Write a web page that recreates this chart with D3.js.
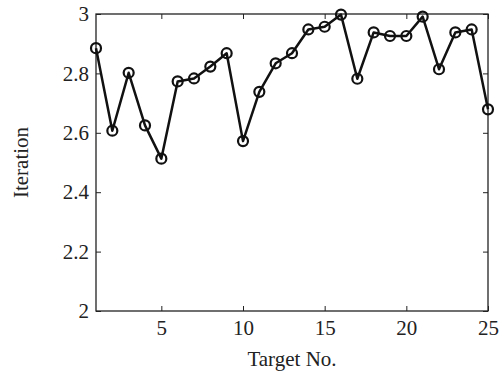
<!DOCTYPE html>
<html>
<head>
<meta charset="utf-8">
<script src="https://cdn.jsdelivr.net/npm/d3@7"></script>
<style>
  body { margin: 0; background: #fff; }
  svg { display: block; }
  text { font-family: "Liberation Serif", "DejaVu Serif", serif; fill: #222; }
</style>
</head>
<body>
<svg id="drawing_region"></svg>
<script>
const targets = d3.range(1, 26);
const iterations = [2.885, 2.607, 2.802, 2.625, 2.513, 2.773, 2.783, 2.823, 2.868, 2.572,
                    2.738, 2.834, 2.868, 2.948, 2.957, 2.998, 2.782, 2.938, 2.926, 2.926,
                    2.991, 2.814, 2.938, 2.948, 2.679];
const xTicks = [5, 10, 15, 20, 25];
const yTicks = [2, 2.2, 2.4, 2.6, 2.8, 3];

const data = targets.map((t, i) => ({x: t, y: iterations[i]}));

const config = {
    width: 502,
    height: 376,
    margin: {top: 14, right: 14, bottom: 65, left: 96}
};

const svg = d3.select('#drawing_region')
    .attr('width', config.width)
    .attr('height', config.height);

const innerW = config.width - config.margin.left - config.margin.right;
const innerH = config.height - config.margin.top - config.margin.bottom;

const chart = svg.append('g')
    .attr('transform', `translate(${config.margin.left}, ${config.margin.top})`);

const xscale = d3.scaleLinear().domain([1, 25]).range([0, innerW]);
const yscale = d3.scaleLinear().domain([2, 3]).range([innerH, 0]);

// box with inward ticks (bottom/left labelled, top/right unlabelled)
const styleAxis = g => {
    g.select('.domain').remove();
    g.selectAll('line').attr('stroke', '#222').attr('stroke-width', 1);
    g.selectAll('text').style('font-size', '21px').attr('fill', '#222');
};

chart.append('g')
    .attr('transform', `translate(0, ${innerH})`)
    .call(d3.axisBottom(xscale).tickValues(xTicks).tickSize(-5).tickPadding(9).tickFormat(d3.format('d')))
    .call(styleAxis);
chart.append('g')
    .call(d3.axisTop(xscale).tickValues(xTicks).tickSize(-5).tickFormat(''))
    .call(styleAxis);
chart.append('g')
    .call(d3.axisLeft(yscale).tickValues(yTicks).tickSize(-5).tickPadding(7).tickFormat(d => d3.format('~g')(d)))
    .call(styleAxis);
chart.append('g')
    .attr('transform', `translate(${innerW}, 0)`)
    .call(d3.axisRight(yscale).tickValues(yTicks).tickSize(-5).tickFormat(''))
    .call(styleAxis);

chart.append('rect')
    .attr('width', innerW)
    .attr('height', innerH)
    .attr('fill', 'none')
    .attr('stroke', '#222')
    .attr('stroke-width', 1.3);

const line = d3.line().x(d => xscale(d.x)).y(d => yscale(d.y));

chart.append('path')
    .datum(data)
    .attr('d', line)
    .attr('fill', 'none')
    .attr('stroke', '#111')
    .attr('stroke-width', 2.5)
    .attr('stroke-linejoin', 'round');

chart.selectAll('circle')
    .data(data)
    .enter()
    .append('circle')
    .attr('cx', d => xscale(d.x))
    .attr('cy', d => yscale(d.y))
    .attr('r', 5)
    .attr('fill', 'none')
    .attr('stroke', '#111')
    .attr('stroke-width', 2.2);

svg.append('text')
    .attr('x', config.margin.left + innerW / 2)
    .attr('y', 366)
    .attr('text-anchor', 'middle')
    .style('font-size', '21px')
    .text('Target No.');

svg.append('text')
    .attr('transform', `translate(28, ${config.margin.top + innerH / 2}) rotate(-90)`)
    .attr('text-anchor', 'middle')
    .style('font-size', '21px')
    .text('Iteration');
</script>
</body>
</html>
